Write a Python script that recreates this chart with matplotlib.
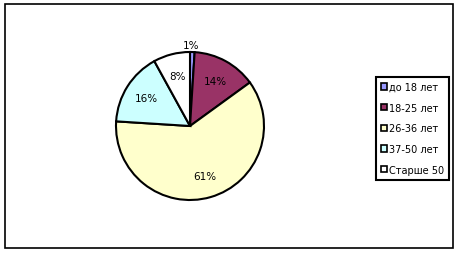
import matplotlib.pyplot as plt
from matplotlib.patches import Rectangle

labels = ['до 18 лет', '18-25 лет', '26-36 лет', '37-50 лет', 'Старше 50']
values = [1, 14, 61, 16, 8]
colors = ['#9999FF', '#993366', '#FFFFCC', '#CCFFFF', '#FFFFFF']

fig = plt.figure(figsize=(4.59, 2.55), dpi=100)
fig.patch.set_facecolor('white')

# outer frame
fig.patches.append(Rectangle((5 / 459, 1 - 249 / 255), 448 / 459, 244 / 255,
                             transform=fig.transFigure, fill=False,
                             edgecolor='black', linewidth=1.2))

ax = fig.add_axes([116 / 459, (255 - 127 - 74) / 255, 148 / 459, 148 / 255])
wedges, texts, autotexts = ax.pie(values, colors=colors, startangle=90,
                                  counterclock=False, autopct='%1.0f%%',
                                  pctdistance=0.7,
                                  wedgeprops=dict(edgecolor='black', linewidth=1.5),
                                  textprops=dict(fontsize=7.5, family='DejaVu Sans'))
# small slice label sits outside
autotexts[0].set_position((0.02, 1.1))
ax.set_aspect('equal')
ax.set_xlim(-1, 1)
ax.set_ylim(-1, 1)

handles = [Rectangle((0, 0), 1, 1, facecolor=c, edgecolor='black', linewidth=1.2)
           for c in colors]
leg = fig.legend(handles, labels, loc='upper left',
                 bbox_to_anchor=(376 / 459, 1 - 78 / 255),
                 prop=dict(size=7, family='DejaVu Sans'),
                 handlelength=0.6, handleheight=0.6, handletextpad=0.2,
                 labelspacing=1.1, borderpad=0.5, borderaxespad=0,
                 fancybox=False, framealpha=1)
leg.get_frame().set_edgecolor('black')
leg.get_frame().set_linewidth(1.5)

fig.savefig('out.png', dpi=100)
